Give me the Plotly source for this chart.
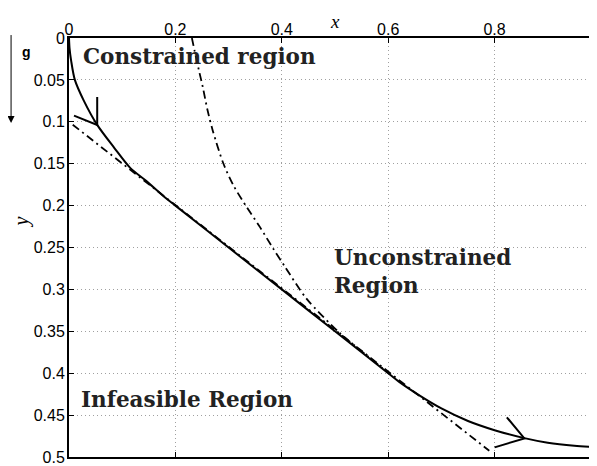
import plotly.graph_objects as go

# ---- data ----
x_ticks = [0, 0.2, 0.4, 0.6, 0.8]
x_tick_labels = ["0", "0.2", "0.4", "0.6", "0.8"]
y_ticks = [0, 0.05, 0.1, 0.15, 0.2, 0.25, 0.3, 0.35, 0.4, 0.45, 0.5]
y_tick_labels = ["0", "0.05", "0.1", "0.15", "0.2", "0.25", "0.3", "0.35", "0.4", "0.45", "0.5"]

# optimal trajectory (solid)
traj_x = [0.0, 0.001, 0.004, 0.011, 0.028, 0.053, 0.085, 0.115, 0.145, 0.18, 0.2, 0.3, 0.4, 0.5, 0.6,
          0.62, 0.66, 0.70, 0.75, 0.80, 0.856, 0.90, 0.95, 1.0]
traj_y = [0.0, 0.012, 0.027, 0.05, 0.075, 0.1037, 0.131, 0.155, 0.1705, 0.19, 0.2, 0.25, 0.3, 0.35, 0.40,
          0.410, 0.427, 0.442, 0.457, 0.468, 0.4775, 0.483, 0.4865, 0.4885]

# arrowheads on trajectory
arrow1_x = [0.0094, 0.053, 0.053]
arrow1_y = [0.0926, 0.1037, 0.0703]
arrow2_x = [0.800, 0.856, 0.823]
arrow2_y = [0.4885, 0.4778, 0.4526]

# constraint line (dash-dot)
line_x = [0.007, 0.79]
line_y = [0.1035, 0.4925]

# unconstrained-region boundary (dash-dot)
bound_x = [0.231, 0.236, 0.244, 0.252, 0.26, 0.27, 0.29, 0.31, 0.3337, 0.3587, 0.3837, 0.405,
           0.4464, 0.5089, 0.56, 0.60]
bound_y = [0.0, 0.015, 0.038, 0.06, 0.085, 0.11, 0.1495, 0.177, 0.2014, 0.2254, 0.2512, 0.272,
           0.311, 0.352, 0.379, 0.3995]

region_labels = ["Constrained region", "Unconstrained<br>Region", "Infeasible Region"]
region_x = [0.022, 0.495, 0.019]
region_y = [0.0215, 0.279, 0.431]

fig = go.Figure()
dd = "8px,4px,2px,4px"
fig.add_trace(go.Scatter(x=line_x, y=line_y, mode="lines",
                         line=dict(color="black", width=1.8, dash=dd), hoverinfo="skip"))
fig.add_trace(go.Scatter(x=bound_x, y=bound_y, mode="lines",
                         line=dict(color="black", width=1.8, dash=dd, shape="spline", smoothing=0.8),
                         hoverinfo="skip"))
fig.add_trace(go.Scatter(x=traj_x, y=traj_y, mode="lines",
                         line=dict(color="black", width=2, shape="spline", smoothing=0.8)))
fig.add_trace(go.Scatter(x=arrow1_x, y=arrow1_y, mode="lines", line=dict(color="black", width=2)))
fig.add_trace(go.Scatter(x=arrow2_x, y=arrow2_y, mode="lines", line=dict(color="black", width=2)))

serif_bold = dict(family="DejaVu Serif", size=21.5, color="#222")
for t, xx, yy in zip(region_labels, region_x, region_y):
    fig.add_annotation(x=xx, y=yy, xref="x", yref="y", text="<b>" + t + "</b>",
                       showarrow=False, xanchor="left", yanchor="middle", align="left",
                       font=serif_bold)

# axis titles
fig.add_annotation(x=0.5, y=1.0, xref="x", yref="paper", yshift=17, yanchor="middle",
                   xanchor="center", text="<i>x</i>", showarrow=False,
                   font=dict(family="Liberation Serif", size=19, color="black"))
fig.add_annotation(x=-0.0901, y=0.22, xref="paper", yref="y", text="<i>y</i>", textangle=-90,
                   xanchor="center", yanchor="middle",
                   showarrow=False, font=dict(family="Liberation Serif", size=20, color="black"))

# gravity arrow
fig.add_annotation(x=-0.1089, y=0.797, xref="paper", yref="paper", text=" ",
                   showarrow=True, ax=0, ay=-98, arrowhead=2, arrowsize=1.4, arrowwidth=1,
                   arrowcolor="black", standoff=0, xanchor="center", yanchor="middle")
fig.add_annotation(x=-0.0808, y=0.9666, xref="paper", yref="paper", text="<b>g</b>",
                   xanchor="center", yanchor="middle",
                   showarrow=False, font=dict(family="Liberation Sans", size=14, color="black"))

axis_common = dict(showline=True, linecolor="black", linewidth=2, ticks="inside", ticklen=5,
                   tickcolor="black", showgrid=True, gridcolor="#a0a0a0", griddash="1px,3px",
                   gridwidth=1, zeroline=False, automargin=False,
                   tickfont=dict(family="Liberation Sans", size=16, color="black"))
fig.update_xaxes(range=[0, 1.0], side="top", tickvals=x_ticks, ticktext=x_tick_labels,
                 mirror="ticks", ticklabelstandoff=-5, **axis_common)
fig.update_yaxes(range=[0.5, 0], tickvals=y_ticks, ticktext=y_tick_labels,
                 ticklabelstandoff=-1, **axis_common)

fig.update_layout(width=597, height=466, margin=dict(l=61, r=3.5, t=30, b=17),
                  paper_bgcolor="white", plot_bgcolor="white", showlegend=False)
fig.write_html("out.html")
